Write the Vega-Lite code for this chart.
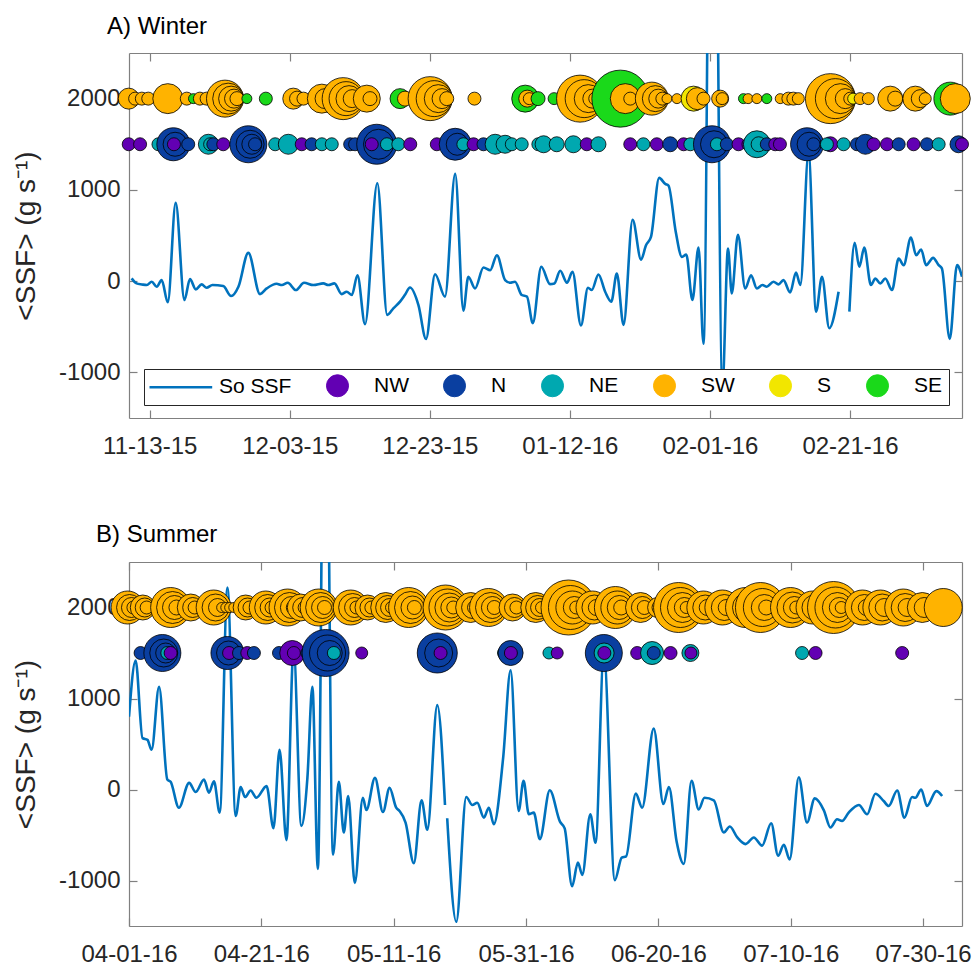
{
"$schema":"https://vega.github.io/schema/vega-lite/v6.json",
"padding":{"left":12,"top":15,"right":5,"bottom":2},
"background":"white",
"config":{"font":"Liberation Sans","view":{"stroke":null},
"axis":{"labelFont":"Liberation Sans","labelFontSize":24,"labelColor":"#262626","domainColor":"#808080","tickColor":"#808080","grid":false,"titleFont":"Liberation Sans","titleFontWeight":"normal","titleFontSize":28,"titleColor":"#262626","tickSize":-8,"domainWidth":1.2,"tickWidth":1.2,"labelOverlap":false,"labelFlush":false},
"title":{"font":"Liberation Sans","fontSize":24,"fontWeight":"normal","color":"#000000","anchor":"start","baseline":"alphabetic","frame":"group"}},
"resolve":{"scale":{"color":"independent","size":"independent"},"legend":{"color":"independent"}},
"spacing":65,
"vconcat":[
{"title":{"text":"A) Winter","dx":-22,"offset":13},
"width":833,"height":365,
"resolve":{"axis":{"x":"independent","y":"independent"}},
"layer":[
{"data":{"values":[
{"t":"2015-11-10T10:00","v":30},{"t":"2015-11-11T03:00","v":-25},{"t":"2015-11-11T21:00","v":-36},{"t":"2015-11-12T14:00","v":-43},{"t":"2015-11-13T07:00","v":-7},{"t":"2015-11-14T00:00","v":-61},{"t":"2015-11-14T17:00","v":11},{"t":"2015-11-15T14:00","v":-232},{"t":"2015-11-16T17:00","v":858},{"t":"2015-11-17T23:00","v":-207},{"t":"2015-11-18T18:00","v":22},{"t":"2015-11-19T14:00","v":-90},{"t":"2015-11-20T10:00","v":-36},{"t":"2015-11-21T03:00","v":-72},{"t":"2015-11-21T23:00","v":-43},{"t":"2015-11-23T12:00","v":-54},{"t":"2015-11-24T15:00","v":-163},{"t":"2015-11-25T16:00","v":-61},{"t":"2015-11-27T02:00","v":310},{"t":"2015-11-28T18:00","v":-142},{"t":"2015-11-29T17:00","v":-80},{"t":"2015-12-01T03:00","v":-29},{"t":"2015-12-01T21:00","v":-43},{"t":"2015-12-02T17:00","v":-18},{"t":"2015-12-03T21:00","v":-98},{"t":"2015-12-05T01:00","v":-18},{"t":"2015-12-06T09:00","v":-43},{"t":"2015-12-07T19:00","v":-25},{"t":"2015-12-08T12:00","v":-43},{"t":"2015-12-09T09:00","v":-25},{"t":"2015-12-10T10:00","v":-142},{"t":"2015-12-11T03:00","v":-116},{"t":"2015-12-11T21:00","v":-152},{"t":"2015-12-12T16:00","v":65},{"t":"2015-12-13T18:00","v":-472},{"t":"2015-12-15T12:00","v":1073},{"t":"2015-12-16T22:00","v":-370},{"t":"2015-12-17T19:00","v":-298},{"t":"2015-12-18T18:00","v":-225},{"t":"2015-12-19T11:00","v":-150},{"t":"2015-12-20T04:00","v":-70},{"t":"2015-12-21T09:00","v":-262},{"t":"2015-12-22T11:00","v":-633},{"t":"2015-12-23T18:00","v":76},{"t":"2015-12-25T04:00","v":-170},{"t":"2015-12-26T15:00","v":1175},{"t":"2015-12-27T19:00","v":-323},{"t":"2015-12-28T12:00","v":48},{"t":"2015-12-29T11:00","v":-80},{"t":"2015-12-30T16:00","v":149},{"t":"2015-12-31T15:00","v":120},{"t":"2016-01-01T14:00","v":284},{"t":"2016-01-02T18:00","v":11},{"t":"2016-01-03T11:00","v":-18},{"t":"2016-01-04T04:00","v":-7},{"t":"2016-01-05T03:00","v":-152},{"t":"2016-01-05T21:00","v":-170},{"t":"2016-01-06T17:00","v":-461},{"t":"2016-01-07T22:00","v":157},{"t":"2016-01-09T04:00","v":-33},{"t":"2016-01-09T19:00","v":-25},{"t":"2016-01-10T15:00","v":113},{"t":"2016-01-11T14:00","v":-18},{"t":"2016-01-12T09:00","v":102},{"t":"2016-01-13T14:00","v":-487},{"t":"2016-01-14T14:00","v":-72},{"t":"2016-01-15T03:00","v":-98},{"t":"2016-01-16T02:00","v":73},{"t":"2016-01-17T01:00","v":-116},{"t":"2016-01-17T22:00","v":-225},{"t":"2016-01-18T17:00","v":84},{"t":"2016-01-19T16:00","v":-480},{"t":"2016-01-20T23:00","v":673},{"t":"2016-01-22T04:00","v":236},{"t":"2016-01-22T21:00","v":393},{"t":"2016-01-23T14:00","v":484},{"t":"2016-01-24T18:00","v":1131},{"t":"2016-01-25T15:00","v":1065},{"t":"2016-01-26T02:00","v":1047},{"t":"2016-01-27T03:00","v":539},{"t":"2016-01-28T00:00","v":266},{"t":"2016-01-28T15:00","v":291},{"t":"2016-01-29T12:00","v":-207},{"t":"2016-01-30T09:00","v":367},{"t":"2016-01-31T02:00","v":-687},{"t":"2016-02-01T09:00","v":8000},{"t":"2016-02-02T19:00","v":-1150},{"t":"2016-02-03T14:00","v":357},{"t":"2016-02-04T03:00","v":-134},{"t":"2016-02-05T00:00","v":509},{"t":"2016-02-06T01:00","v":-80},{"t":"2016-02-06T21:00","v":65},{"t":"2016-02-07T17:00","v":-80},{"t":"2016-02-08T12:00","v":-43},{"t":"2016-02-09T03:00","v":-61},{"t":"2016-02-10T02:00","v":-7},{"t":"2016-02-10T19:00","v":-36},{"t":"2016-02-11T12:00","v":11},{"t":"2016-02-12T11:00","v":-123},{"t":"2016-02-13T07:00","v":95},{"t":"2016-02-13T22:00","v":-43},{"t":"2016-02-15T02:00","v":1400},{"t":"2016-02-16T04:00","v":-334},{"t":"2016-02-17T00:00","v":48},{"t":"2016-02-18T01:00","v":-516},{"t":"2016-02-19T09:00","v":-116},{"t":"2016-02-19T20:00","v":null},{"t":"2016-02-20T22:00","v":-334},{"t":"2016-02-21T16:00","v":419},{"t":"2016-02-22T08:00","v":157},{"t":"2016-02-23T01:00","v":367},{"t":"2016-02-24T00:00","v":-43},{"t":"2016-02-24T15:00","v":29},{"t":"2016-02-25T08:00","v":-25},{"t":"2016-02-26T01:00","v":29},{"t":"2016-02-27T00:00","v":-98},{"t":"2016-02-27T23:00","v":248},{"t":"2016-02-28T16:00","v":175},{"t":"2016-02-29T17:00","v":477},{"t":"2016-03-01T11:00","v":284},{"t":"2016-03-02T04:00","v":346},{"t":"2016-03-02T21:00","v":175},{"t":"2016-03-03T21:00","v":255},{"t":"2016-03-04T16:00","v":175},{"t":"2016-03-05T03:00","v":139},{"t":"2016-03-06T06:00","v":-633},{"t":"2016-03-07T07:00","v":175},{"t":"2016-03-08T00:00","v":48}
]},
"mark":{"type":"line","clip":true,"strokeWidth":2.6,"interpolate":"monotone"},
"encoding":{
"x":{"field":"t","type":"temporal","scale":{"domain":[{"year":2015,"month":11,"date":10,"hours":1},{"year":2016,"month":3,"date":8}],"nice":false},
"axis":{"orient":"bottom","title":null,"format":"%m-%d-%y","labelPadding":24,"values":[{"year":2015,"month":11,"date":13},{"year":2015,"month":12,"date":3},{"year":2015,"month":12,"date":23},{"year":2016,"month":1,"date":12},{"year":2016,"month":2,"date":1},{"year":2016,"month":2,"date":21}]}},
"y":{"field":"v","type":"quantitative","scale":{"domain":[-1500,2500],"nice":false,"zero":false},
"axis":{"orient":"left","title":"<SSF> (g s⁻¹)","values":[-1000,0,1000,2000],"labelExpr":"'' + datum.value","labelPadding":17,"titlePadding":18}},
"color":{"datum":"So SSF","scale":{"domain":["So SSF","NW","N","NE","SW","S","SE"],"range":["#0072BD","#6200B3","#0A3FA0","#00A8B0","#FFB300","#F2E600","#1AD91A"]},
"legend":{"orient":"none","legendX":15,"legendY":316,"direction":"horizontal","columns":7,"title":null,"symbolSize":484,"labelFontSize":21,"labelFont":"Liberation Sans","labelColor":"#000000","labelOffset":26,"columnPadding":32,"padding":6,"strokeColor":"#262626","fillColor":"white",
"encode":{"symbols":{"update":{
"shape":{"signal":"datum.value==='So SSF' ? 'M-1,0H4.7' : 'circle'"},
"stroke":{"signal":"datum.value==='So SSF' ? '#0072BD' : '#000000'"},
"strokeWidth":{"signal":"datum.value==='So SSF' ? 2.6 : 1"},
"fill":{"signal":"datum.value==='NW' ? '#6200B3' : datum.value==='N' ? '#0A3FA0' : datum.value==='NE' ? '#00A8B0' : datum.value==='SW' ? '#FFB300' : datum.value==='S' ? '#F2E600' : datum.value==='SE' ? '#1AD91A' : 'transparent'"},
"opacity":{"value":1}}},
"labels":{"update":{"dx":{"signal":"datum.value==='So SSF' ? 22 : 0"}}}}}}
}},
{"data":{"values":[
{"t":"2015-11-10T00:00","d":"SW","lv":2000,"m":21},{"t":"2015-11-10T22:00","d":"SW","lv":2000,"m":13},{"t":"2015-11-11T21:00","d":"SW","lv":2000,"m":13},{"t":"2015-11-12T19:00","d":"SW","lv":2000,"m":13},{"t":"2015-11-15T14:00","d":"SW","lv":2000,"m":30},{"t":"2015-11-18T07:00","d":"SW","lv":2000,"m":13},{"t":"2015-11-19T06:00","d":"SE","lv":2000,"m":10},{"t":"2015-11-20T04:00","d":"SW","lv":2000,"m":13},{"t":"2015-11-21T03:00","d":"SW","lv":2000,"m":13},{"t":"2015-11-23T18:00","d":"SW","lv":2000,"m":37},{"t":"2015-11-24T05:00","d":"SW","lv":2000,"m":31},{"t":"2015-11-24T15:00","d":"SW","lv":2000,"m":25},{"t":"2015-11-25T01:00","d":"SW","lv":2000,"m":19},{"t":"2015-11-25T11:00","d":"SW","lv":2000,"m":14},{"t":"2015-11-26T21:00","d":"SE","lv":2000,"m":10},{"t":"2015-11-29T14:00","d":"SE","lv":2000,"m":13},{"t":"2015-12-03T12:00","d":"SW","lv":2000,"m":21},{"t":"2015-12-04T01:00","d":"SW","lv":2000,"m":15},{"t":"2015-12-04T23:00","d":"SW","lv":2000,"m":13},{"t":"2015-12-07T14:00","d":"SW","lv":2000,"m":29},{"t":"2015-12-08T01:00","d":"SW","lv":2000,"m":20},{"t":"2015-12-10T15:00","d":"SW","lv":2000,"m":42},{"t":"2015-12-11T01:00","d":"SW","lv":2000,"m":34},{"t":"2015-12-11T11:00","d":"SW","lv":2000,"m":26},{"t":"2015-12-11T22:00","d":"SW","lv":2000,"m":18},{"t":"2015-12-14T00:00","d":"SW","lv":2000,"m":27},{"t":"2015-12-14T11:00","d":"SW","lv":2000,"m":14},{"t":"2015-12-18T18:00","d":"SE","lv":2000,"m":20},{"t":"2015-12-19T11:00","d":"SW","lv":2000,"m":15},{"t":"2015-12-23T01:00","d":"SW","lv":2000,"m":44},{"t":"2015-12-23T15:00","d":"SW","lv":2000,"m":36},{"t":"2015-12-24T05:00","d":"SW","lv":2000,"m":28},{"t":"2015-12-24T18:00","d":"SW","lv":2000,"m":20},{"t":"2015-12-25T10:00","d":"SW","lv":2000,"m":14},{"t":"2015-12-29T09:00","d":"SW","lv":2000,"m":13},{"t":"2016-01-05T15:00","d":"SE","lv":2000,"m":27},{"t":"2016-01-05T22:00","d":"SW","lv":2000,"m":17},{"t":"2016-01-06T05:00","d":"SW","lv":2000,"m":12},{"t":"2016-01-07T11:00","d":"SE","lv":2000,"m":14},{"t":"2016-01-09T18:00","d":"SE","lv":2000,"m":12},{"t":"2016-01-13T11:00","d":"SW","lv":2000,"m":47},{"t":"2016-01-14T01:00","d":"SW","lv":2000,"m":38},{"t":"2016-01-14T15:00","d":"SW","lv":2000,"m":28},{"t":"2016-01-15T05:00","d":"SW","lv":2000,"m":19},{"t":"2016-01-15T15:00","d":"SW","lv":2000,"m":13},{"t":"2016-01-19T05:00","d":"SE","lv":2000,"m":57},{"t":"2016-01-19T22:00","d":"SW","lv":2000,"m":30},{"t":"2016-01-20T15:00","d":"SW","lv":2000,"m":13},{"t":"2016-01-23T17:00","d":"SW","lv":2000,"m":33},{"t":"2016-01-24T05:00","d":"SW","lv":2000,"m":26},{"t":"2016-01-24T15:00","d":"SW","lv":2000,"m":19},{"t":"2016-01-25T05:00","d":"SW","lv":2000,"m":13},{"t":"2016-01-25T21:00","d":"SW","lv":2000,"m":10},{"t":"2016-01-27T07:00","d":"SW","lv":2000,"m":10},{"t":"2016-01-29T16:00","d":"S","lv":2000,"m":25},{"t":"2016-01-30T05:00","d":"SW","lv":2000,"m":22},{"t":"2016-01-31T02:00","d":"SW","lv":2000,"m":13},{"t":"2016-02-02T11:00","d":"SW","lv":2000,"m":17},{"t":"2016-02-02T18:00","d":"SW","lv":2000,"m":12},{"t":"2016-02-05T19:00","d":"SE","lv":2000,"m":10},{"t":"2016-02-06T11:00","d":"SW","lv":2000,"m":10},{"t":"2016-02-07T17:00","d":"SW","lv":2000,"m":10},{"t":"2016-02-09T03:00","d":"SE","lv":2000,"m":10},{"t":"2016-02-11T01:00","d":"SW","lv":2000,"m":10},{"t":"2016-02-12T05:00","d":"SW","lv":2000,"m":13},{"t":"2016-02-12T22:00","d":"SW","lv":2000,"m":13},{"t":"2016-02-13T15:00","d":"SW","lv":2000,"m":12},{"t":"2016-02-18T05:00","d":"SW","lv":2000,"m":50},{"t":"2016-02-18T22:00","d":"SW","lv":2000,"m":40},{"t":"2016-02-19T15:00","d":"SW","lv":2000,"m":30},{"t":"2016-02-20T08:00","d":"SW","lv":2000,"m":20},{"t":"2016-02-21T01:00","d":"SW","lv":2000,"m":13},{"t":"2016-02-21T11:00","d":"S","lv":2000,"m":11},{"t":"2016-02-22T11:00","d":"SW","lv":2000,"m":12},{"t":"2016-02-23T15:00","d":"SW","lv":2000,"m":12},{"t":"2016-02-26T18:00","d":"SW","lv":2000,"m":25},{"t":"2016-02-27T11:00","d":"SW","lv":2000,"m":15},{"t":"2016-03-01T08:00","d":"SW","lv":2000,"m":25},{"t":"2016-03-02T01:00","d":"SW","lv":2000,"m":18},{"t":"2016-03-02T18:00","d":"SW","lv":2000,"m":12},{"t":"2016-03-06T08:00","d":"SE","lv":2000,"m":33},{"t":"2016-03-07T01:00","d":"SW","lv":2000,"m":30},
{"t":"2015-11-10T00:00","d":"NW","lv":1500,"m":13},{"t":"2015-11-11T15:00","d":"NW","lv":1500,"m":13},{"t":"2015-11-14T06:00","d":"NE","lv":1500,"m":13},{"t":"2015-11-16T09:00","d":"N","lv":1500,"m":33},{"t":"2015-11-16T15:00","d":"N","lv":1500,"m":24},{"t":"2015-11-16T11:00","d":"NW","lv":1500,"m":13},{"t":"2015-11-18T12:00","d":"N","lv":1500,"m":13},{"t":"2015-11-21T09:00","d":"NE","lv":1500,"m":20},{"t":"2015-11-21T15:00","d":"NE","lv":1500,"m":13},{"t":"2015-11-22T02:00","d":"N","lv":1500,"m":13},{"t":"2015-11-23T12:00","d":"NW","lv":1500,"m":13},{"t":"2015-11-25T22:00","d":"N","lv":1500,"m":13},{"t":"2015-11-27T02:00","d":"N","lv":1500,"m":37},{"t":"2015-11-27T08:00","d":"N","lv":1500,"m":28},{"t":"2015-11-27T14:00","d":"N","lv":1500,"m":20},{"t":"2015-11-28T01:00","d":"N","lv":1500,"m":13},{"t":"2015-11-30T22:00","d":"NE","lv":1500,"m":13},{"t":"2015-12-02T08:00","d":"N","lv":1500,"m":13},{"t":"2015-12-02T19:00","d":"NE","lv":1500,"m":20},{"t":"2015-12-04T17:00","d":"NW","lv":1500,"m":13},{"t":"2015-12-06T03:00","d":"N","lv":1500,"m":13},{"t":"2015-12-07T14:00","d":"NE","lv":1500,"m":13},{"t":"2015-12-09T00:00","d":"NE","lv":1500,"m":13},{"t":"2015-12-11T15:00","d":"N","lv":1500,"m":13},{"t":"2015-12-12T08:00","d":"N","lv":1500,"m":13},{"t":"2015-12-15T10:00","d":"N","lv":1500,"m":40},{"t":"2015-12-15T16:00","d":"N","lv":1500,"m":30},{"t":"2015-12-14T17:00","d":"NW","lv":1500,"m":13},{"t":"2015-12-16T21:00","d":"NE","lv":1500,"m":13},{"t":"2015-12-18T12:00","d":"NE","lv":1500,"m":13},{"t":"2015-12-20T05:00","d":"NW","lv":1500,"m":13},{"t":"2015-12-24T00:00","d":"NW","lv":1500,"m":13},{"t":"2015-12-26T03:00","d":"N","lv":1500,"m":13},{"t":"2015-12-26T15:00","d":"N","lv":1500,"m":32},{"t":"2015-12-26T22:00","d":"N","lv":1500,"m":22},{"t":"2015-12-27T19:00","d":"NE","lv":1500,"m":13},{"t":"2015-12-29T06:00","d":"NW","lv":1500,"m":13},{"t":"2015-12-30T16:00","d":"N","lv":1500,"m":13},{"t":"2016-01-01T08:00","d":"NE","lv":1500,"m":20},{"t":"2016-01-02T18:00","d":"NE","lv":1500,"m":18},{"t":"2016-01-03T17:00","d":"NE","lv":1500,"m":13},{"t":"2016-01-05T03:00","d":"NE","lv":1500,"m":13},{"t":"2016-01-07T12:00","d":"NE","lv":1500,"m":13},{"t":"2016-01-08T06:00","d":"NE","lv":1500,"m":17},{"t":"2016-01-10T03:00","d":"NE","lv":1500,"m":15},{"t":"2016-01-12T12:00","d":"NE","lv":1500,"m":17},{"t":"2016-01-14T10:00","d":"NW","lv":1500,"m":13},{"t":"2016-01-16T02:00","d":"NE","lv":1500,"m":15},{"t":"2016-01-20T15:00","d":"NW","lv":1500,"m":13},{"t":"2016-01-22T12:00","d":"NE","lv":1500,"m":13},{"t":"2016-01-24T10:00","d":"NW","lv":1500,"m":13},{"t":"2016-01-26T08:00","d":"N","lv":1500,"m":15},{"t":"2016-01-28T06:00","d":"NW","lv":1500,"m":13},{"t":"2016-01-29T05:00","d":"NE","lv":1500,"m":13},{"t":"2016-01-31T08:00","d":"NW","lv":1500,"m":13},{"t":"2016-02-01T07:00","d":"N","lv":1500,"m":37},{"t":"2016-02-01T14:00","d":"N","lv":1500,"m":27},{"t":"2016-02-02T00:00","d":"NE","lv":1500,"m":13},{"t":"2016-02-03T10:00","d":"N","lv":1500,"m":13},{"t":"2016-02-05T02:00","d":"NW","lv":1500,"m":13},{"t":"2016-02-06T12:00","d":"NW","lv":1500,"m":13},{"t":"2016-02-07T17:00","d":"NE","lv":1500,"m":27},{"t":"2016-02-07T23:00","d":"NE","lv":1500,"m":15},{"t":"2016-02-09T03:00","d":"N","lv":1500,"m":13},{"t":"2016-02-10T08:00","d":"NW","lv":1500,"m":13},{"t":"2016-02-11T00:00","d":"NW","lv":1500,"m":13},{"t":"2016-02-14T21:00","d":"N","lv":1500,"m":33},{"t":"2016-02-15T04:00","d":"N","lv":1500,"m":24},{"t":"2016-02-15T19:00","d":"N","lv":1500,"m":13},{"t":"2016-02-18T05:00","d":"NW","lv":1500,"m":15},{"t":"2016-02-17T17:00","d":"NE","lv":1500,"m":13},{"t":"2016-02-20T02:00","d":"NE","lv":1500,"m":13},{"t":"2016-02-22T00:00","d":"N","lv":1500,"m":13},{"t":"2016-02-23T05:00","d":"N","lv":1500,"m":20},{"t":"2016-02-24T09:00","d":"NW","lv":1500,"m":13},{"t":"2016-02-26T07:00","d":"NW","lv":1500,"m":13},{"t":"2016-02-27T23:00","d":"N","lv":1500,"m":13},{"t":"2016-03-01T02:00","d":"NW","lv":1500,"m":13},{"t":"2016-03-03T00:00","d":"N","lv":1500,"m":13},{"t":"2016-03-04T16:00","d":"NE","lv":1500,"m":13},{"t":"2016-03-07T12:00","d":"N","lv":1500,"m":17},{"t":"2016-03-08T00:00","d":"NW","lv":1500,"m":13}
]},
"mark":{"type":"circle","opacity":1,"stroke":"#000000","strokeWidth":0.8},
"encoding":{
"x":{"field":"t","type":"temporal","axis":{"orient":"top","labels":false,"title":null,"values":[{"year":2015,"month":11,"date":13},{"year":2015,"month":12,"date":3},{"year":2015,"month":12,"date":23},{"year":2016,"month":1,"date":12},{"year":2016,"month":2,"date":1},{"year":2016,"month":2,"date":21}]}},
"y":{"field":"lv","type":"quantitative","axis":{"orient":"right","labels":false,"title":null,"values":[-1000,0,1000,2000]}},
"color":{"field":"d","type":"nominal","legend":{"title":null}},
"size":{"field":"m","type":"quantitative","scale":{"type":"pow","exponent":2,"domain":[0,60],"range":[0,3600]},"legend":null}
}}
]},
{"title":{"text":"B) Summer","dx":-33,"offset":14},
"width":833,"height":364,
"resolve":{"axis":{"x":"independent","y":"independent"}},
"layer":[
{"data":{"values":[
{"t":"2016-04-01T00:00","v":800},{"t":"2016-04-02T00:00","v":1418},{"t":"2016-04-03T01:00","v":564},{"t":"2016-04-03T19:00","v":545},{"t":"2016-04-04T10:00","v":436},{"t":"2016-04-05T13:00","v":1128},{"t":"2016-04-06T19:00","v":109},{"t":"2016-04-07T07:00","v":84},{"t":"2016-04-08T13:00","v":-200},{"t":"2016-04-10T02:00","v":73},{"t":"2016-04-11T02:00","v":-28},{"t":"2016-04-12T08:00","v":109},{"t":"2016-04-13T02:00","v":-36},{"t":"2016-04-13T20:00","v":91},{"t":"2016-04-14T17:00","v":-254},{"t":"2016-04-15T21:00","v":2220},{"t":"2016-04-17T03:00","v":-290},{"t":"2016-04-17T21:00","v":26},{"t":"2016-04-18T13:00","v":-83},{"t":"2016-04-19T09:00","v":-11},{"t":"2016-04-20T06:00","v":-91},{"t":"2016-04-21T19:00","v":37},{"t":"2016-04-22T20:00","v":-425},{"t":"2016-04-23T18:00","v":436},{"t":"2016-04-24T19:00","v":-556},{"t":"2016-04-25T21:00","v":1550},{"t":"2016-04-27T01:00","v":-400},{"t":"2016-04-27T23:00","v":128},{"t":"2016-04-28T17:00","v":1128},{"t":"2016-04-29T13:00","v":-872},{"t":"2016-04-30T15:00","v":6000},{"t":"2016-05-01T20:00","v":-716},{"t":"2016-05-02T17:00","v":84},{"t":"2016-05-03T11:00","v":-472},{"t":"2016-05-04T03:00","v":-73},{"t":"2016-05-05T03:00","v":-1028},{"t":"2016-05-06T08:00","v":-91},{"t":"2016-05-06T21:00","v":-225},{"t":"2016-05-08T04:00","v":128},{"t":"2016-05-09T09:00","v":-247},{"t":"2016-05-10T09:00","v":18},{"t":"2016-05-11T09:00","v":-200},{"t":"2016-05-11T21:00","v":-236},{"t":"2016-05-12T19:00","v":-363},{"t":"2016-05-14T01:00","v":-810},{"t":"2016-05-15T05:00","v":-120},{"t":"2016-05-16T02:00","v":-443},{"t":"2016-05-17T14:00","v":927},{"t":"2016-05-18T18:00","v":-170},{"t":"2016-05-18T21:00","v":null},{"t":"2016-05-19T02:00","v":-316},{"t":"2016-05-20T11:00","v":-1454},{"t":"2016-05-21T23:00","v":-83},{"t":"2016-05-22T21:00","v":-170},{"t":"2016-05-23T15:00","v":-145},{"t":"2016-05-24T15:00","v":-309},{"t":"2016-05-25T09:00","v":-200},{"t":"2016-05-26T03:00","v":-382},{"t":"2016-05-27T13:00","v":350},{"t":"2016-05-28T16:00","v":1310},{"t":"2016-05-29T21:00","v":-236},{"t":"2016-05-30T15:00","v":95},{"t":"2016-05-31T10:00","v":-272},{"t":"2016-06-01T04:00","v":-254},{"t":"2016-06-02T02:00","v":-545},{"t":"2016-06-03T14:00","v":-9},{"t":"2016-06-05T03:00","v":-354},{"t":"2016-06-05T20:00","v":-427},{"t":"2016-06-06T23:00","v":-1064},{"t":"2016-06-07T20:00","v":-803},{"t":"2016-06-08T12:00","v":-938},{"t":"2016-06-09T17:00","v":-272},{"t":"2016-06-10T12:00","v":-585},{"t":"2016-06-11T18:00","v":1500},{"t":"2016-06-13T10:00","v":-996},{"t":"2016-06-14T11:00","v":-748},{"t":"2016-06-15T03:00","v":-734},{"t":"2016-06-16T14:00","v":-45},{"t":"2016-06-17T13:00","v":-200},{"t":"2016-06-19T07:00","v":669},{"t":"2016-06-20T18:00","v":-160},{"t":"2016-06-21T14:00","v":27},{"t":"2016-06-22T18:00","v":-572},{"t":"2016-06-23T20:00","v":-818},{"t":"2016-06-25T00:00","v":95},{"t":"2016-06-26T02:00","v":-218},{"t":"2016-06-26T23:00","v":-91},{"t":"2016-06-28T09:00","v":-120},{"t":"2016-06-29T21:00","v":-472},{"t":"2016-06-30T19:00","v":-407},{"t":"2016-07-01T22:00","v":-527},{"t":"2016-07-03T04:00","v":-600},{"t":"2016-07-04T10:00","v":-527},{"t":"2016-07-05T16:00","v":-617},{"t":"2016-07-07T01:00","v":-371},{"t":"2016-07-08T02:00","v":-727},{"t":"2016-07-08T23:00","v":-607},{"t":"2016-07-09T20:00","v":-770},{"t":"2016-07-11T05:00","v":135},{"t":"2016-07-12T11:00","v":-363},{"t":"2016-07-13T15:00","v":-98},{"t":"2016-07-15T00:00","v":-229},{"t":"2016-07-16T00:00","v":-418},{"t":"2016-07-17T00:00","v":-327},{"t":"2016-07-17T18:00","v":-345},{"t":"2016-07-18T18:00","v":-254},{"t":"2016-07-20T07:00","v":-170},{"t":"2016-07-21T13:00","v":-272},{"t":"2016-07-22T19:00","v":-47},{"t":"2016-07-24T01:00","v":-127},{"t":"2016-07-24T19:00","v":-181},{"t":"2016-07-26T02:00","v":-11},{"t":"2016-07-27T04:00","v":-309},{"t":"2016-07-28T08:00","v":-83},{"t":"2016-07-28T20:00","v":-91},{"t":"2016-07-29T17:00","v":0},{"t":"2016-07-30T14:00","v":-181},{"t":"2016-08-01T00:00","v":-18},{"t":"2016-08-01T21:00","v":-72}
]},
"mark":{"type":"line","clip":true,"strokeWidth":2.6,"interpolate":"monotone"},
"encoding":{
"x":{"field":"t","type":"temporal","scale":{"domain":[{"year":2016,"month":4,"date":1},{"year":2016,"month":8,"date":4,"hours":21}],"nice":false},
"axis":{"orient":"bottom","title":null,"format":"%m-%d-%y","labelPadding":24,"values":[{"year":2016,"month":4,"date":1},{"year":2016,"month":4,"date":21},{"year":2016,"month":5,"date":11},{"year":2016,"month":5,"date":31},{"year":2016,"month":6,"date":20},{"year":2016,"month":7,"date":10},{"year":2016,"month":7,"date":30}]}},
"y":{"field":"v","type":"quantitative","scale":{"domain":[-1500,2500],"nice":false,"zero":false},
"axis":{"orient":"left","title":"<SSF> (g s⁻¹)","values":[-1000,0,1000,2000],"labelExpr":"'' + datum.value","labelPadding":17,"titlePadding":18}},
"color":{"datum":"So SSF","scale":{"domain":["So SSF","NW","N","NE","SW","S","SE"],"range":["#0072BD","#6200B3","#0A3FA0","#00A8B0","#FFB300","#F2E600","#1AD91A"]},"legend":null}
}},
{"data":{"values":[
{"t":"2016-03-31T19:00","d":"SW","lv":2000,"m":33},{"t":"2016-04-01T02:00","d":"SW","lv":2000,"m":26},{"t":"2016-04-01T09:00","d":"SW","lv":2000,"m":20},{"t":"2016-04-01T16:00","d":"SW","lv":2000,"m":13},
{"t":"2016-04-03T02:00","d":"SW","lv":2000,"m":25},{"t":"2016-04-03T09:00","d":"SW","lv":2000,"m":19},{"t":"2016-04-03T16:00","d":"SW","lv":2000,"m":13},
{"t":"2016-04-07T07:00","d":"SW","lv":2000,"m":40},{"t":"2016-04-07T14:00","d":"SW","lv":2000,"m":32},{"t":"2016-04-07T21:00","d":"SW","lv":2000,"m":24},{"t":"2016-04-08T04:00","d":"SW","lv":2000,"m":15},
{"t":"2016-04-10T08:00","d":"SW","lv":2000,"m":27},{"t":"2016-04-10T15:00","d":"SW","lv":2000,"m":20},{"t":"2016-04-10T22:00","d":"SW","lv":2000,"m":13},
{"t":"2016-04-13T19:00","d":"SW","lv":2000,"m":35},{"t":"2016-04-14T02:00","d":"SW","lv":2000,"m":27},{"t":"2016-04-14T09:00","d":"SW","lv":2000,"m":18},{"t":"2016-04-15T00:00","d":"SW","lv":2000,"m":10},{"t":"2016-04-15T15:00","d":"SW","lv":2000,"m":10},{"t":"2016-04-16T05:00","d":"SW","lv":2000,"m":10},{"t":"2016-04-16T20:00","d":"SW","lv":2000,"m":10},
{"t":"2016-04-18T15:00","d":"SW","lv":2000,"m":25},{"t":"2016-04-18T22:00","d":"SW","lv":2000,"m":19},{"t":"2016-04-19T05:00","d":"SW","lv":2000,"m":13},
{"t":"2016-04-21T16:00","d":"SW","lv":2000,"m":33},{"t":"2016-04-21T23:00","d":"SW","lv":2000,"m":26},{"t":"2016-04-22T06:00","d":"SW","lv":2000,"m":19},{"t":"2016-04-22T13:00","d":"SW","lv":2000,"m":13},
{"t":"2016-04-24T23:00","d":"SW","lv":2000,"m":37},{"t":"2016-04-25T06:00","d":"SW","lv":2000,"m":30},{"t":"2016-04-25T13:00","d":"SW","lv":2000,"m":22},{"t":"2016-04-25T20:00","d":"SW","lv":2000,"m":14},
{"t":"2016-04-26T23:00","d":"SW","lv":2000,"m":27},{"t":"2016-04-27T06:00","d":"SW","lv":2000,"m":20},{"t":"2016-04-27T13:00","d":"SW","lv":2000,"m":13},
{"t":"2016-04-29T16:00","d":"SW","lv":2000,"m":37},{"t":"2016-04-29T23:00","d":"SW","lv":2000,"m":30},{"t":"2016-04-30T06:00","d":"SW","lv":2000,"m":22},{"t":"2016-04-30T13:00","d":"SW","lv":2000,"m":14},
{"t":"2016-05-04T12:00","d":"SW","lv":2000,"m":35},{"t":"2016-05-04T19:00","d":"SW","lv":2000,"m":28},{"t":"2016-05-05T02:00","d":"SW","lv":2000,"m":20},{"t":"2016-05-05T09:00","d":"SW","lv":2000,"m":13},
{"t":"2016-05-07T01:00","d":"SW","lv":2000,"m":25},{"t":"2016-05-07T08:00","d":"SW","lv":2000,"m":19},{"t":"2016-05-07T15:00","d":"SW","lv":2000,"m":13},
{"t":"2016-05-09T19:00","d":"SW","lv":2000,"m":30},{"t":"2016-05-10T02:00","d":"SW","lv":2000,"m":24},{"t":"2016-05-10T09:00","d":"SW","lv":2000,"m":18},{"t":"2016-05-10T16:00","d":"SW","lv":2000,"m":12},
{"t":"2016-05-13T06:00","d":"SW","lv":2000,"m":40},{"t":"2016-05-13T13:00","d":"SW","lv":2000,"m":32},{"t":"2016-05-13T20:00","d":"SW","lv":2000,"m":23},{"t":"2016-05-14T03:00","d":"SW","lv":2000,"m":14},
{"t":"2016-05-18T20:00","d":"SW","lv":2000,"m":45},{"t":"2016-05-19T03:00","d":"SW","lv":2000,"m":37},{"t":"2016-05-19T10:00","d":"SW","lv":2000,"m":29},{"t":"2016-05-19T17:00","d":"SW","lv":2000,"m":21},{"t":"2016-05-20T00:00","d":"SW","lv":2000,"m":13},
{"t":"2016-05-22T15:00","d":"SW","lv":2000,"m":30},{"t":"2016-05-22T22:00","d":"SW","lv":2000,"m":22},{"t":"2016-05-23T05:00","d":"SW","lv":2000,"m":14},
{"t":"2016-05-25T08:00","d":"SW","lv":2000,"m":38},{"t":"2016-05-25T15:00","d":"SW","lv":2000,"m":30},{"t":"2016-05-25T22:00","d":"SW","lv":2000,"m":22},{"t":"2016-05-26T05:00","d":"SW","lv":2000,"m":14},
{"t":"2016-05-28T23:00","d":"SW","lv":2000,"m":27},{"t":"2016-05-29T06:00","d":"SW","lv":2000,"m":20},{"t":"2016-05-29T13:00","d":"SW","lv":2000,"m":13},
{"t":"2016-06-01T11:00","d":"SW","lv":2000,"m":30},{"t":"2016-06-01T18:00","d":"SW","lv":2000,"m":24},{"t":"2016-06-02T01:00","d":"SW","lv":2000,"m":18},{"t":"2016-06-02T08:00","d":"SW","lv":2000,"m":12},
{"t":"2016-06-06T10:00","d":"SW","lv":2000,"m":55},{"t":"2016-06-06T17:00","d":"SW","lv":2000,"m":44},{"t":"2016-06-07T00:00","d":"SW","lv":2000,"m":33},{"t":"2016-06-07T07:00","d":"SW","lv":2000,"m":22},{"t":"2016-06-07T14:00","d":"SW","lv":2000,"m":13},
{"t":"2016-06-10T01:00","d":"SW","lv":2000,"m":33},{"t":"2016-06-10T08:00","d":"SW","lv":2000,"m":25},{"t":"2016-06-10T15:00","d":"SW","lv":2000,"m":16},
{"t":"2016-06-13T12:00","d":"SW","lv":2000,"m":42},{"t":"2016-06-13T19:00","d":"SW","lv":2000,"m":33},{"t":"2016-06-14T02:00","d":"SW","lv":2000,"m":24},{"t":"2016-06-14T09:00","d":"SW","lv":2000,"m":15},
{"t":"2016-06-17T07:00","d":"SW","lv":2000,"m":30},{"t":"2016-06-17T14:00","d":"SW","lv":2000,"m":22},{"t":"2016-06-17T21:00","d":"SW","lv":2000,"m":14},
{"t":"2016-06-19T21:00","d":"SW","lv":2000,"m":20},{"t":"2016-06-20T04:00","d":"SW","lv":2000,"m":15},{"t":"2016-06-20T11:00","d":"SW","lv":2000,"m":10},
{"t":"2016-06-23T01:00","d":"SW","lv":2000,"m":50},{"t":"2016-06-23T08:00","d":"SW","lv":2000,"m":40},{"t":"2016-06-23T15:00","d":"SW","lv":2000,"m":30},{"t":"2016-06-23T22:00","d":"SW","lv":2000,"m":20},{"t":"2016-06-24T05:00","d":"SW","lv":2000,"m":12},
{"t":"2016-06-26T19:00","d":"SW","lv":2000,"m":33},{"t":"2016-06-27T02:00","d":"SW","lv":2000,"m":25},{"t":"2016-06-27T09:00","d":"SW","lv":2000,"m":16},
{"t":"2016-06-29T16:00","d":"SW","lv":2000,"m":35},{"t":"2016-06-29T23:00","d":"SW","lv":2000,"m":26},{"t":"2016-06-30T06:00","d":"SW","lv":2000,"m":16},
{"t":"2016-07-03T04:00","d":"SW","lv":2000,"m":40},{"t":"2016-07-03T11:00","d":"SW","lv":2000,"m":30},{"t":"2016-07-03T18:00","d":"SW","lv":2000,"m":20},
{"t":"2016-07-05T10:00","d":"SW","lv":2000,"m":50},{"t":"2016-07-05T17:00","d":"SW","lv":2000,"m":38},{"t":"2016-07-06T00:00","d":"SW","lv":2000,"m":26},{"t":"2016-07-06T07:00","d":"SW","lv":2000,"m":15},
{"t":"2016-07-09T23:00","d":"SW","lv":2000,"m":40},{"t":"2016-07-10T06:00","d":"SW","lv":2000,"m":31},{"t":"2016-07-10T13:00","d":"SW","lv":2000,"m":22},{"t":"2016-07-10T20:00","d":"SW","lv":2000,"m":13},
{"t":"2016-07-13T07:00","d":"SW","lv":2000,"m":33},{"t":"2016-07-13T14:00","d":"SW","lv":2000,"m":25},{"t":"2016-07-13T21:00","d":"SW","lv":2000,"m":16},
{"t":"2016-07-16T11:00","d":"SW","lv":2000,"m":52},{"t":"2016-07-16T18:00","d":"SW","lv":2000,"m":41},{"t":"2016-07-17T01:00","d":"SW","lv":2000,"m":30},{"t":"2016-07-17T08:00","d":"SW","lv":2000,"m":20},{"t":"2016-07-17T15:00","d":"SW","lv":2000,"m":12},
{"t":"2016-07-20T20:00","d":"SW","lv":2000,"m":35},{"t":"2016-07-21T03:00","d":"SW","lv":2000,"m":26},{"t":"2016-07-21T10:00","d":"SW","lv":2000,"m":16},
{"t":"2016-07-23T13:00","d":"SW","lv":2000,"m":35},{"t":"2016-07-23T20:00","d":"SW","lv":2000,"m":27},{"t":"2016-07-24T03:00","d":"SW","lv":2000,"m":18},
{"t":"2016-07-27T00:00","d":"SW","lv":2000,"m":37},{"t":"2016-07-27T07:00","d":"SW","lv":2000,"m":28},{"t":"2016-07-27T14:00","d":"SW","lv":2000,"m":18},
{"t":"2016-07-29T21:00","d":"SW","lv":2000,"m":30},{"t":"2016-07-30T04:00","d":"SW","lv":2000,"m":20},
{"t":"2016-08-02T01:00","d":"SW","lv":2000,"m":38},
{"t":"2016-04-02T18:00","d":"N","lv":1500,"m":13},{"t":"2016-04-06T01:00","d":"N","lv":1500,"m":37},{"t":"2016-04-06T06:00","d":"N","lv":1500,"m":28},{"t":"2016-04-06T13:00","d":"N","lv":1500,"m":20},{"t":"2016-04-06T19:00","d":"NE","lv":1500,"m":13},{"t":"2016-04-07T07:00","d":"NW","lv":1500,"m":13},{"t":"2016-04-15T21:00","d":"N","lv":1500,"m":33},{"t":"2016-04-16T01:00","d":"N","lv":1500,"m":24},{"t":"2016-04-16T03:00","d":"NW","lv":1500,"m":13},{"t":"2016-04-17T15:00","d":"N","lv":1500,"m":13},{"t":"2016-04-18T21:00","d":"NW","lv":1500,"m":13},{"t":"2016-04-19T21:00","d":"N","lv":1500,"m":13},{"t":"2016-04-23T16:00","d":"N","lv":1500,"m":13},{"t":"2016-04-25T04:00","d":"NW","lv":1500,"m":13},{"t":"2016-04-25T16:00","d":"NW","lv":1500,"m":25},{"t":"2016-04-25T22:00","d":"NW","lv":1500,"m":13},{"t":"2016-04-27T23:00","d":"N","lv":1500,"m":13},{"t":"2016-04-30T05:00","d":"NW","lv":1500,"m":13},{"t":"2016-04-30T17:00","d":"N","lv":1500,"m":47},{"t":"2016-05-01T00:00","d":"N","lv":1500,"m":36},{"t":"2016-05-01T08:00","d":"N","lv":1500,"m":25},{"t":"2016-05-01T23:00","d":"NE","lv":1500,"m":13},{"t":"2016-05-06T04:00","d":"NW","lv":1500,"m":12},{"t":"2016-05-17T14:00","d":"N","lv":1500,"m":40},{"t":"2016-05-17T19:00","d":"N","lv":1500,"m":28},{"t":"2016-05-18T02:00","d":"NW","lv":1500,"m":13},{"t":"2016-05-27T16:00","d":"NE","lv":1500,"m":13},{"t":"2016-05-28T16:00","d":"N","lv":1500,"m":25},{"t":"2016-05-28T17:00","d":"NW","lv":1500,"m":13},{"t":"2016-06-03T11:00","d":"NE","lv":1500,"m":12},{"t":"2016-06-04T17:00","d":"NW","lv":1500,"m":12},{"t":"2016-06-11T18:00","d":"N","lv":1500,"m":37},{"t":"2016-06-11T19:00","d":"NE","lv":1500,"m":20},{"t":"2016-06-11T20:00","d":"NW","lv":1500,"m":13},{"t":"2016-06-16T19:00","d":"NW","lv":1500,"m":13},{"t":"2016-06-18T13:00","d":"NW","lv":1500,"m":13},{"t":"2016-06-19T01:00","d":"NE","lv":1500,"m":23},{"t":"2016-06-19T07:00","d":"N","lv":1500,"m":13},{"t":"2016-06-21T20:00","d":"NW","lv":1500,"m":13},{"t":"2016-06-24T20:00","d":"NE","lv":1500,"m":17},{"t":"2016-06-24T22:00","d":"NW","lv":1500,"m":12},{"t":"2016-07-11T17:00","d":"NE","lv":1500,"m":13},{"t":"2016-07-13T18:00","d":"NW","lv":1500,"m":13},{"t":"2016-07-26T20:00","d":"NW","lv":1500,"m":13}
]},
"mark":{"type":"circle","opacity":1,"stroke":"#000000","strokeWidth":0.8},
"encoding":{
"x":{"field":"t","type":"temporal","axis":{"orient":"top","labels":false,"title":null,"values":[{"year":2016,"month":4,"date":1},{"year":2016,"month":4,"date":21},{"year":2016,"month":5,"date":11},{"year":2016,"month":5,"date":31},{"year":2016,"month":6,"date":20},{"year":2016,"month":7,"date":10},{"year":2016,"month":7,"date":30}]}},
"y":{"field":"lv","type":"quantitative","axis":{"orient":"right","labels":false,"title":null,"values":[-1000,0,1000,2000]}},
"color":{"field":"d","type":"nominal","legend":null},
"size":{"field":"m","type":"quantitative","scale":{"type":"pow","exponent":2,"domain":[0,60],"range":[0,3600]},"legend":null}
}}
]}
]
}
